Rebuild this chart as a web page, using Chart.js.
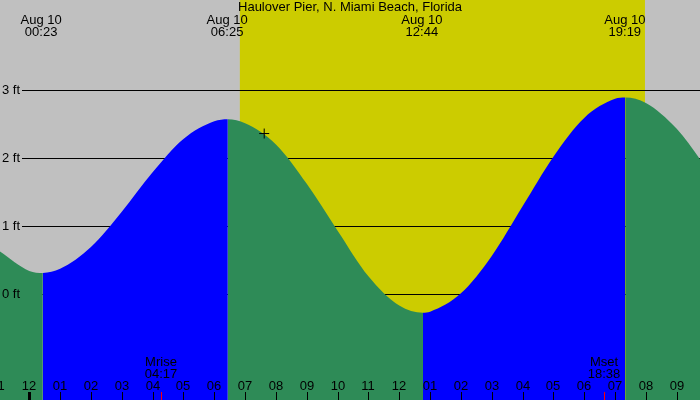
<!DOCTYPE html>
<html>
<head>
<meta charset="utf-8">
<script src="https://cdn.jsdelivr.net/npm/chart.js@4/dist/chart.umd.min.js"></script>
<style>
  html, body { margin: 0; padding: 0; background: #c0c0c0; }
  #wrap { width: 700px; height: 400px; }
</style>
</head>
<body>
<div id="wrap"><canvas id="tideChart" width="700" height="400"></canvas></div>
<script>
// hours since midnight Aug 10, tide height in feet
const tideHours = [-1, 0, 0.44, 1, 2, 3, 4, 5, 6, 6.44, 7, 8, 9, 10, 11, 12, 12.77, 13, 14, 15, 16, 17, 18, 19, 19.33, 20, 21, 22];
const tideFeet  = [0.64, 0.34, 0.31, 0.37, 0.69, 1.21, 1.79, 2.28, 2.54, 2.57, 2.51, 2.20, 1.62, 0.93, 0.26, -0.17, -0.275, -0.26, 0.01, 0.56, 1.29, 2.02, 2.59, 2.87, 2.89, 2.81, 2.43, 1.83];

// high / low events shown along the top
const eventHours = [0.383, 6.417, 12.733, 19.317];
const eventTimes = ["00:23", "06:25", "12:44", "19:19"];
const eventDate = "Aug 10";

// sunrise / sunset, moonrise / moonset
const sunHours = [6.83, 19.97];
const moonHours = [4.283, 18.633];
const moonNames = ["Mrise", "Mset"];
const moonTimes = ["04:17", "18:38"];

// hour ticks along the bottom
const hourTicks = [-1, 0, 1, 2, 3, 4, 5, 6, 7, 8, 9, 10, 11, 12, 13, 14, 15, 16, 17, 18, 19, 20, 21];
const hourLabels = ["11", "12", "01", "02", "03", "04", "05", "06", "07", "08", "09", "10", "11", "12", "01", "02", "03", "04", "05", "06", "07", "08", "09"];

// feet lines
const feetTicks = [0, 1, 2, 3];
const feetLabels = ["0 ft", "1 ft", "2 ft", "3 ft"];

// "now" marker
const nowHour = [7.62];
const nowFeet = [2.36];

const title = "Haulover Pier, N. Miami Beach, Florida";

const NIGHT = "#c0c0c0";
const DAY = "#cccc00";
const RISING = "#0000ff";
const FALLING = "#2e8b57";
const FONT = "13px 'Liberation Sans', Arial, sans-serif";

const tidePlot = {
    id: "tidePlot",

    beforeDraw(chart) {
        const { ctx, chartArea: a, scales: { x, y } } = chart;
        ctx.save();

        // night / day background
        ctx.fillStyle = NIGHT;
        ctx.fillRect(a.left, a.top, a.width, a.height);
        const sx1 = x.getPixelForValue(sunHours[0]);
        const sx2 = x.getPixelForValue(sunHours[1]);
        ctx.fillStyle = DAY;
        ctx.fillRect(sx1, a.top, sx2 - sx1, a.height);

        // feet lines (sit under the water)
        ctx.strokeStyle = "#000";
        ctx.lineWidth = 1;
        feetTicks.forEach(function (f) {
            const py = Math.round(y.getPixelForValue(f)) + 0.5;
            ctx.beginPath();
            ctx.moveTo(22, py);
            ctx.lineTo(a.right, py);
            ctx.stroke();
        });
        ctx.restore();
    },

    afterDraw(chart) {
        const { ctx, scales: { x, y } } = chart;
        ctx.save();
        ctx.font = FONT;
        ctx.fillStyle = "#000";
        ctx.textBaseline = "middle";

        // title
        ctx.textAlign = "center";
        ctx.fillText(title, 350, 7);

        // high / low labels
        eventHours.forEach(function (h, i) {
            const px = x.getPixelForValue(h);
            ctx.fillText(eventDate, px, 20);
            ctx.fillText(eventTimes[i], px, 32);
        });

        // feet labels
        ctx.textAlign = "left";
        feetTicks.forEach(function (f, i) {
            ctx.fillText(feetLabels[i], 2, y.getPixelForValue(f));
        });

        // hour labels and ticks
        ctx.textAlign = "center";
        hourTicks.forEach(function (h, i) {
            const px = Math.round(x.getPixelForValue(h));
            ctx.fillStyle = "#000";
            ctx.fillText(hourLabels[i], px, 386);
            const w = (h === 0) ? 3 : 1;
            ctx.fillRect(px - Math.floor(w / 2), 392, w, 8);
        });

        // moon rise / set
        moonHours.forEach(function (h, i) {
            const px = Math.round(x.getPixelForValue(h));
            ctx.fillStyle = "#ff0000";
            ctx.fillRect(px, 392, 1, 8);
            ctx.fillStyle = "#000";
            ctx.fillText(moonNames[i], px, 362);
            ctx.fillText(moonTimes[i], px, 374);
        });

        ctx.restore();
    }
};

const tideData = tideHours.map(function (h, i) { return { x: h, y: tideFeet[i] }; });
const nowData = nowHour.map(function (h, i) { return { x: h, y: nowFeet[i] }; });

new Chart(document.getElementById("tideChart"), {
    type: "line",
    data: {
        datasets: [
            {
                label: "Now",
                data: nowData,
                showLine: false,
                pointStyle: "cross",
                pointRadius: 5,
                pointBorderColor: "#000",
                pointBorderWidth: 1,
                order: 0
            },
            {
                label: "Tide",
                data: tideData,
                borderWidth: 0,
                borderColor: "rgba(0,0,0,0)",
                pointRadius: 0,
                cubicInterpolationMode: "monotone",
                fill: "start",
                backgroundColor: FALLING,
                segment: {
                    backgroundColor: function (c) {
                        return c.p1.parsed.y > c.p0.parsed.y ? RISING : FALLING;
                    }
                },
                order: 1
            }
        ]
    },
    options: {
        responsive: false,
        animation: false,
        devicePixelRatio: 1,
        layout: { padding: 0, autoPadding: false },
        plugins: {
            legend: { display: false },
            tooltip: { enabled: false },
            title: { display: false }
        },
        scales: {
            x: {
                type: "linear",
                display: false,
                min: -0.95,
                max: 21.755
            },
            y: {
                display: false,
                min: -1.559,
                max: 4.324
            }
        }
    },
    plugins: [tidePlot]
});
</script>
</body>
</html>
